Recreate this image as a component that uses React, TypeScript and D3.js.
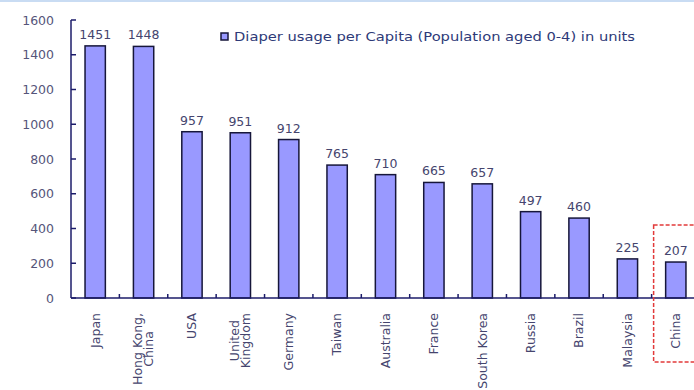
import React, { useEffect, useRef } from "react";
import * as d3 from "d3";

const categories: string[][] = [
  ["Japan"],
  ["Hong Kong,", "China"],
  ["USA"],
  ["United", "Kingdom"],
  ["Germany"],
  ["Taiwan"],
  ["Australia"],
  ["France"],
  ["South Korea"],
  ["Russia"],
  ["Brazil"],
  ["Malaysia"],
  ["China"],
];
const values: number[] = [1451, 1448, 957, 951, 912, 765, 710, 665, 657, 497, 460, 225, 207];
const yTicks: number[] = [0, 200, 400, 600, 800, 1000, 1200, 1400, 1600];
const legendLabel = "Diaper usage per Capita (Population aged 0-4) in units";
const highlighted = "China";

const W = 694;
const H = 390;
const FONT = "'DejaVu Sans', Verdana, sans-serif";

export default function App() {
  const ref = useRef<SVGSVGElement | null>(null);

  useEffect(() => {
    const svg = d3.select(ref.current);
    svg.selectAll("*").remove();

    const keys = categories.map((c) => c.join(" "));
    const x = d3
      .scaleBand<string>()
      .domain(keys)
      .range([71, 700])
      .paddingInner(0.58)
      .paddingOuter(0.29);
    const y = d3.scaleLinear().domain([0, 1600]).range([298, 20]);
    const step = x.step();
    const x0 = 71;

    // top light blue border
    svg
      .append("rect")
      .attr("x", 0)
      .attr("y", 0)
      .attr("width", W)
      .attr("height", 2)
      .attr("fill", "#c9dcf3");

    const axisColor = "#1c1c6a";
    const textColor = "#45456e";

    // y axis
    svg
      .append("line")
      .attr("x1", x0)
      .attr("x2", x0)
      .attr("y1", y(1600))
      .attr("y2", y(0))
      .attr("stroke", axisColor)
      .attr("stroke-width", 1.5);
    const yt = svg.append("g");
    yTicks.forEach((t) => {
      yt.append("line")
        .attr("x1", x0)
        .attr("x2", x0 + 5)
        .attr("y1", y(t))
        .attr("y2", y(t))
        .attr("stroke", axisColor)
        .attr("stroke-width", 1.5);
      yt.append("text")
        .attr("x", 54)
        .attr("y", y(t))
        .attr("dy", "0.36em")
        .attr("text-anchor", "end")
        .attr("font-family", FONT)
        .attr("font-size", 12.5)
        .attr("fill", "#55557a")
        .text(String(t));
    });

    // bars
    keys.forEach((k, i) => {
      const v = values[i];
      svg
        .append("rect")
        .attr("x", x(k)!)
        .attr("y", y(v))
        .attr("width", x.bandwidth())
        .attr("height", y(0) - y(v))
        .attr("fill", "#9999ff")
        .attr("stroke", "#16163a")
        .attr("stroke-width", 1.5);
      svg
        .append("text")
        .attr("x", x(k)! + x.bandwidth() / 2)
        .attr("y", y(v) - 7)
        .attr("text-anchor", "middle")
        .attr("font-family", FONT)
        .attr("font-size", 12.5)
        .attr("fill", textColor)
        .text(String(v));
    });

    // x axis
    svg
      .append("line")
      .attr("x1", x0)
      .attr("x2", W)
      .attr("y1", y(0))
      .attr("y2", y(0))
      .attr("stroke", axisColor)
      .attr("stroke-width", 1.5);
    for (let i = 1; i <= keys.length; i++) {
      svg
        .append("line")
        .attr("x1", x0 + step * i)
        .attr("x2", x0 + step * i)
        .attr("y1", y(0))
        .attr("y2", y(0) - 4)
        .attr("stroke", axisColor)
        .attr("stroke-width", 1.5);
    }

    // x labels (rotated, multi-line centered, block top at 313)
    const lineH = 11;
    categories.forEach((lines, i) => {
      const k = keys[i];
      const cx = x(k)! + x.bandwidth() / 2;
      const g = svg.append("g");
      const t = g
        .append("text")
        .attr("text-anchor", "middle")
        .attr("font-family", FONT)
        .attr("font-size", 12.5)
        .attr("fill", textColor);
      lines.forEach((ln, j) => {
        t.append("tspan")
          .attr("x", 0)
          .attr("y", (j - (lines.length - 1) / 2) * lineH)
          .attr("dy", "0.35em")
          .text(ln);
      });
      const node = t.node() as SVGTextElement;
      let maxLen = 0;
      t.selectAll<SVGTSpanElement, unknown>("tspan").each(function () {
        maxLen = Math.max(maxLen, this.getComputedTextLength());
      });
      g.attr("transform", `translate(${cx},${313 + maxLen / 2}) rotate(-90)`);
      void node;
    });

    // legend
    svg
      .append("rect")
      .attr("x", 221)
      .attr("y", 33)
      .attr("width", 7)
      .attr("height", 7)
      .attr("fill", "#9999ff")
      .attr("stroke", "#16163a")
      .attr("stroke-width", 1.5);
    svg
      .append("text")
      .attr("x", 234)
      .attr("y", 41)
      .attr("font-family", FONT)
      .attr("font-size", 12)
      .attr("fill", "#2e3a78")
      .attr("textLength", 401)
      .attr("lengthAdjust", "spacingAndGlyphs")
      .text(legendLabel);

    // red dashed highlight box around highlighted category
    const hx = x0 + step * keys.indexOf(highlighted) + 2;
    svg
      .append("rect")
      .attr("x", hx)
      .attr("y", y(420))
      .attr("width", 60)
      .attr("height", 362 - y(420))
      .attr("fill", "none")
      .attr("stroke", "#e23a3a")
      .attr("stroke-width", 1.5)
      .attr("stroke-dasharray", "4,2");
  }, []);

  return (
    <svg
      ref={ref}
      width={W}
      height={H}
      style={{ position: "absolute", left: 0, top: 0, background: "#fff" }}
    />
  );
}
